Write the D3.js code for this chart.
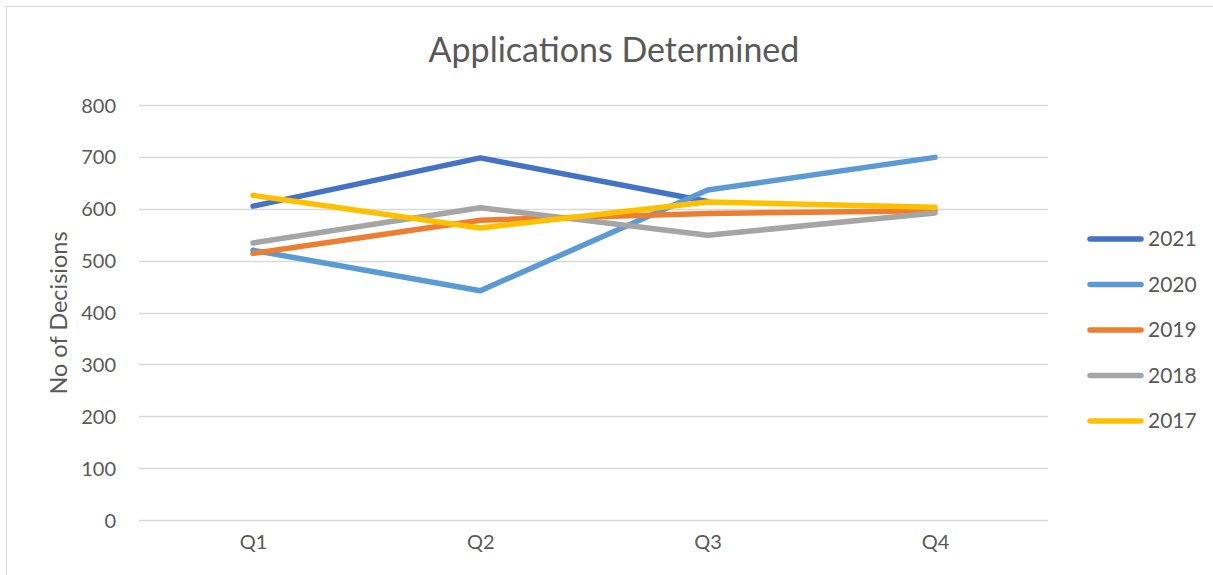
<!DOCTYPE html>
<html><head><meta charset="utf-8">
<script src="https://cdn.jsdelivr.net/npm/d3@7"></script>
<style>body{margin:0;background:#fff}svg{display:block}text{font-family:Lato,"Open Sans",sans-serif;fill:#595959}</style>
</head><body><svg id="c" width="1213" height="575"></svg>
<script>
const categories = ["Q1","Q2","Q3","Q4"];
const seriesNames = ["2021","2020","2019","2018","2017"];
const v2021 = [605, 698, 614, null];
const v2020 = [520, 442, 636, 699];
const v2019 = [514, 578, 591, 596];
const v2018 = [534, 602, 549, 592];
const v2017 = [626, 563, 613, 603];
const yTicks = [0,100,200,300,400,500,600,700,800];
const colors = ["#4472C4","#5B9BD5","#ED7D31","#A5A5A5","#FFC000"];
const seriesValues = [v2021, v2020, v2019, v2018, v2017];

const svg = d3.select("#c");
svg.append("rect").attr("x",6.5).attr("y",6.5).attr("width",1220).attr("height",580)
  .attr("fill","#fff").attr("stroke","#d9d9d9").attr("stroke-width",1);

const x = d3.scalePoint().domain(categories).range([253, 935]);
const y = d3.scaleLinear().domain([0,800]).range([520, 105]);

const grid = svg.append("g");
grid.selectAll("line").data(yTicks).join("line")
  .attr("x1",139).attr("x2",1048)
  .attr("y1",d=>Math.round(y(d))+0.5).attr("y2",d=>Math.round(y(d))+0.5)
  .attr("stroke","#d9d9d9").attr("stroke-width",1.5);

const yAxis = d3.axisLeft(y).tickValues(yTicks).tickSize(0).tickPadding(0);
const ya = svg.append("g").attr("transform","translate(116,0)").call(yAxis);
ya.select(".domain").remove();
ya.selectAll("text").style("font-size","20px").attr("fill","#595959").attr("dy","0.35em");

const xAxis = d3.axisBottom(x).tickSize(0).tickPadding(0);
const xa = svg.append("g").attr("transform","translate(0,542)").call(xAxis);
xa.select(".domain").remove();
xa.selectAll("text").style("font-size","20px").attr("fill","#595959").attr("dy","0.35em");

svg.append("text").attr("x",614).attr("y",62).attr("text-anchor","middle")
  .style("font-size","34px").text("Applications Determined");
svg.append("text").attr("transform","translate(67,313) rotate(-90)").attr("text-anchor","middle")
  .style("font-size","23.5px").text("No of Decisions");

const line = d3.line().defined(d=>d!=null).x((d,i)=>x(categories[i])).y(d=>y(d));
seriesValues.forEach((vals,k)=>{
  svg.append("path").datum(vals).attr("d",line).attr("fill","none")
    .attr("stroke",colors[k]).attr("stroke-width",5.5).attr("stroke-linecap","round").attr("stroke-linejoin","round");
});

const legend = svg.append("g");
seriesNames.forEach((n,k)=>{
  const ly = 239 + k*45.5;
  legend.append("line").attr("x1",1090).attr("x2",1141).attr("y1",ly).attr("y2",ly)
    .attr("stroke",colors[k]).attr("stroke-width",5.5).attr("stroke-linecap","round");
  legend.append("text").attr("x",1148).attr("y",ly).attr("dy","0.35em").style("font-size","21px").text(n);
});
</script></body></html>
